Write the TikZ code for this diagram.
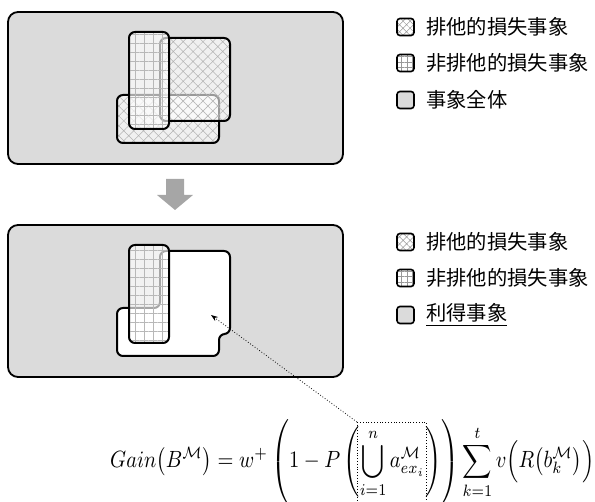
\documentclass[tikz,border=0pt]{standalone}
\usepackage{amsmath}
\usepackage{graphicx}
\usepackage{fontspec}
\newfontfamily\jp{Noto Sans CJK JP}
\usetikzlibrary{patterns.meta,arrows.meta}
\tikzset{
  outerbox/.style={line width=1.8pt, rounded corners=10pt, fill=black!14},
  inner/.style={line width=2pt, rounded corners=6pt},
  exfill/.style={preaction={fill=white,fill opacity=0.6}, pattern={Hatch[angle=45,distance=7pt,line width=0.5pt]}, pattern color=black!30},
  nexfill/.style={preaction={fill=white,fill opacity=0.65}, pattern={Hatch[angle=0,distance=9pt,line width=0.5pt]}, pattern color=black!28},
  legbox/.style={draw, line width=1.6pt, rounded corners=3pt, minimum size=17pt, inner sep=0pt},
  legex/.style={legbox, preaction={fill=white}, pattern={Hatch[angle=45,distance=5pt,line width=0.5pt]}, pattern color=black!40},
  legnex/.style={legbox, preaction={fill=white}, pattern={Hatch[angle=0,distance=5.5pt,line width=0.6pt]}, pattern color=black!40},
  legall/.style={legbox, fill=black!14},
  legtext/.style={anchor=west, font=\jp\fontsize{20.3}{24}\selectfont, inner sep=0pt},
}
\begin{document}
\begin{tikzpicture}[x=1pt,y=-1pt]
\useasboundingbox (0,0) rectangle (595,502);
% ---------- top panel ----------
\draw[outerbox] (8,12) rectangle (343,164);
\draw[inner, exfill] (117,95) rectangle (219,143);
\draw[inner, exfill] (160,38) rectangle (230,121);
\draw[inner, nexfill] (129,32) rectangle (169,129);
% legend top
\node[legex]  (t1) at (405.5,27) {};
\node[legnex] (t2) at (405.5,63) {};
\node[legall] (t3) at (405.5,100) {};
\node[legtext] (tt1) at (426,27) {排他的損失事象};
\node[legtext] (tt2) at (426,63) {非排他的損失事象};
\node[legtext] (tt3) at (426,100) {事象全体};
% ---------- arrow ----------
\fill[black!35] (166,179) -- (184,179) -- (184,195) -- (193,195) -- (175,210) -- (157,195) -- (166,195) -- cycle;
% ---------- bottom panel ----------
\draw[outerbox] (8,225) rectangle (343,377);
\draw[inner, fill=white] (160,251) -- (230,251) -- (230,334) -- (219,334) -- (219,356) -- (117,356) -- (117,308) -- (160,308) -- cycle;
\draw[inner, nexfill] (129,245) rectangle (169,343);
% legend bottom
\node[legex]  (b1) at (405.5,242) {};
\node[legnex] (b2) at (405.5,278) {};
\node[legall] (b3) at (405.5,315) {};
\node[legtext] (bt1) at (426,242) {排他的損失事象};
\node[legtext] (bt2) at (426,278) {非排他的損失事象};
\node[legtext] (bt3) at (426,315) {\underline{利得事象}};
% ---------- formula ----------
\node[inner sep=0pt, anchor=base west] (formula) at (110,468) {\resizebox{484pt}{!}{\scalebox{1}[1.15]{$\displaystyle Gain\bigl(B^{\mathcal{M}}\bigr) = w^{+}\left(\vrule height 20.5pt depth 15.5pt width 0pt 1 - P\left(\vrule height 15pt depth 12pt width 0pt\bigcup_{i=1}^{n} a^{\mathcal{M}}_{ex_i}\right)\right)\sum_{k=1}^{t} v\Bigl(R\bigl(b^{\mathcal{M}}_{k}\bigr)\Bigr)$}}};
\node[draw, dotted, line width=0.8pt, minimum width=69pt, minimum height=95pt, inner sep=0pt, anchor=north west] (ubox) at (357,422) {};
\coordinate (tgt) at (211,315);
\draw[dotted, line width=0.8pt, -{Stealth[length=7pt,width=5pt]}] (ubox.north west) -- (tgt);
\end{tikzpicture}
\end{document}
